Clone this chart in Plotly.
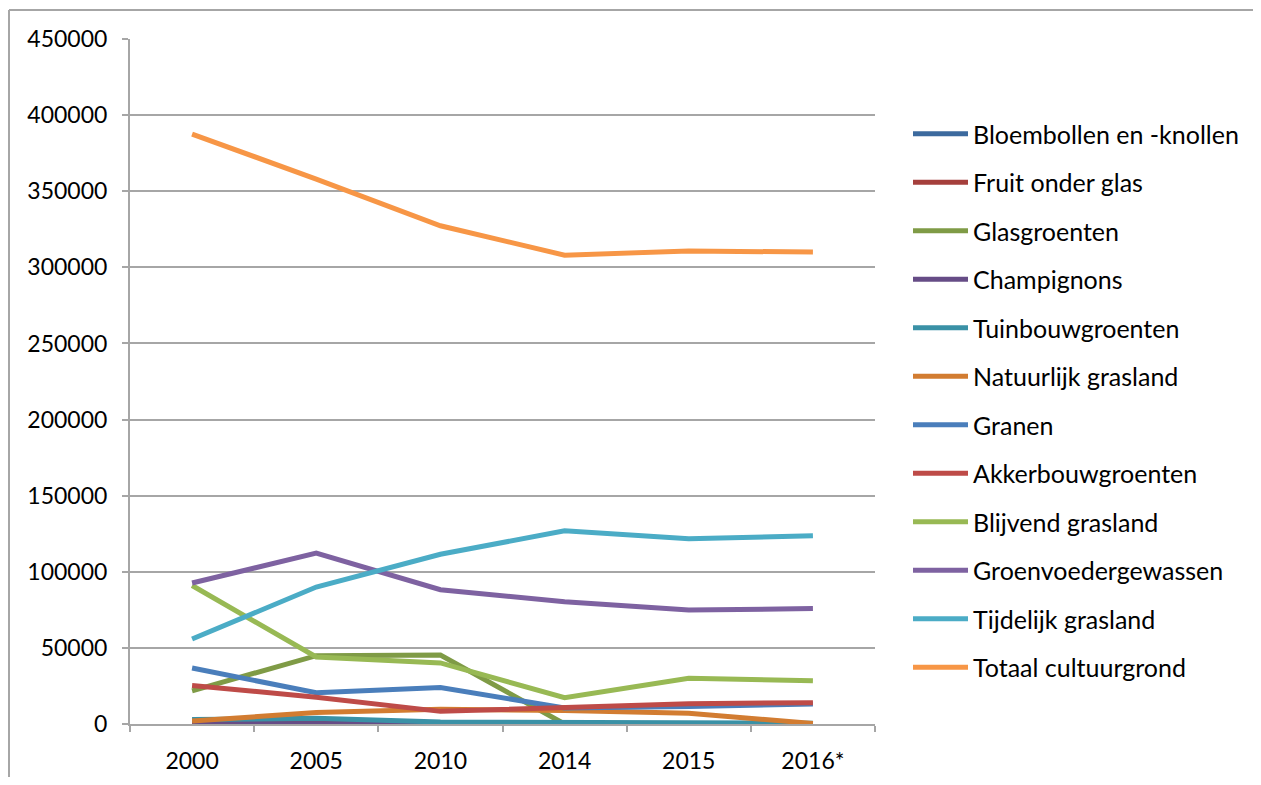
import plotly.graph_objects as go

years = ["2000", "2005", "2010", "2014", "2015", "2016*"]

series_names = [
    "Bloembollen en -knollen", "Fruit onder glas", "Glasgroenten", "Champignons",
    "Tuinbouwgroenten", "Natuurlijk grasland", "Granen", "Akkerbouwgroenten",
    "Blijvend grasland", "Groenvoedergewassen", "Tijdelijk grasland", "Totaal cultuurgrond",
]

bloembollen = [300, 300, 200, 200, 200, 200]
fruit_onder_glas = [0, 0, 0, 0, 0, 0]
glasgroenten = [21800, 44900, 45300, 0, 0, 0]
champignons = [200, 300, 100, 100, 100, 100]
tuinbouwgroenten = [3000, 3700, 1300, 900, 800, 500]
natuurlijk_grasland = [2000, 7500, 9700, 8800, 7000, 400]
granen = [36800, 20500, 24000, 10500, 11500, 13200]
akkerbouwgroenten = [25300, 17600, 8300, 10500, 13300, 14000]
blijvend_grasland = [91000, 44000, 40100, 17300, 30000, 28400]
groenvoedergewassen = [92600, 112300, 88200, 80300, 74900, 75800]
tijdelijk_grasland = [55800, 90000, 111500, 126900, 121700, 123600]
totaal_cultuurgrond = [387500, 358000, 327300, 308000, 310800, 310000]

values = [
    bloembollen, fruit_onder_glas, glasgroenten, champignons, tuinbouwgroenten,
    natuurlijk_grasland, granen, akkerbouwgroenten, blijvend_grasland,
    groenvoedergewassen, tijdelijk_grasland, totaal_cultuurgrond,
]

colors = [
    "#3C6A9E", "#A53F3C", "#7F9B46", "#664C86", "#3A91A6", "#D27C31",
    "#4A7EBB", "#BE4B48", "#98B954", "#7E62A1", "#4BACC6", "#F79646",
]

FONT = "Lato, Open Sans, sans-serif"

# Figure is placed with an 8px page margin; plot area in figure coords:
L, T, W, H = 122, 31, 745, 685
FIG_W, FIG_H = 1245, 769

fig = go.Figure()
for i, (name, vals, col) in enumerate(zip(series_names, values, colors)):
    fig.add_trace(go.Scatter(
        x=years, y=vals, name=name, mode="lines",
        line=dict(color=col, width=5),
        legendgroup=f"g{i}",
    ))

fig.update_layout(
    width=FIG_W, height=FIG_H,
    paper_bgcolor="white", plot_bgcolor="white",
    margin=dict(l=L, r=FIG_W - L - W, t=T, b=FIG_H - T - H, pad=0, autoexpand=False),
    font=dict(family=FONT, size=23, color="#000000"),
    showlegend=True,
    legend=dict(
        x=(900 - L) / W, y=(T + H - 103) / H, xanchor="left", yanchor="top",
        font=dict(family=FONT, size=25, color="#000000"),
        tracegroupgap=13,
        bgcolor="rgba(0,0,0,0)",
        itemwidth=55,
    ),
    xaxis=dict(
        type="category", categoryorder="array", categoryarray=years,
        showgrid=False, showline=True, linecolor="#A6A6A6", linewidth=2,
        ticks="outside", tickson="boundaries", ticklen=6, tickcolor="#A6A6A6", tickwidth=2,
        tickfont=dict(family=FONT, size=23), ticklabelstandoff=15,
        range=[-0.5, 5.5], zeroline=False, automargin=False,
    ),
    yaxis=dict(
        range=[0, 450000], dtick=50000, tickformat="d",
        showgrid=True, gridcolor="#A6A6A6", gridwidth=1.5,
        showline=True, linecolor="#A6A6A6", linewidth=2,
        ticks="outside", ticklen=6, tickcolor="#A6A6A6", tickwidth=2,
        tickfont=dict(family=FONT, size=23), ticklabelstandoff=10,
        zeroline=False, automargin=False,
    ),
    shapes=[
        dict(type="line", xref="paper", yref="paper",
             x0=(1 - L) / W, x1=(FIG_W + 10 - L) / W,
             y0=(T + H - 2) / H, y1=(T + H - 2) / H,
             line=dict(color="#A6A6A6", width=2)),
        dict(type="line", xref="paper", yref="paper",
             x0=(1 - L) / W, x1=(1 - L) / W,
             y0=(T + H - 2) / H, y1=(T + H - FIG_H - 10) / H,
             line=dict(color="#A6A6A6", width=2)),
    ],
)

fig.write_html("out.html")
